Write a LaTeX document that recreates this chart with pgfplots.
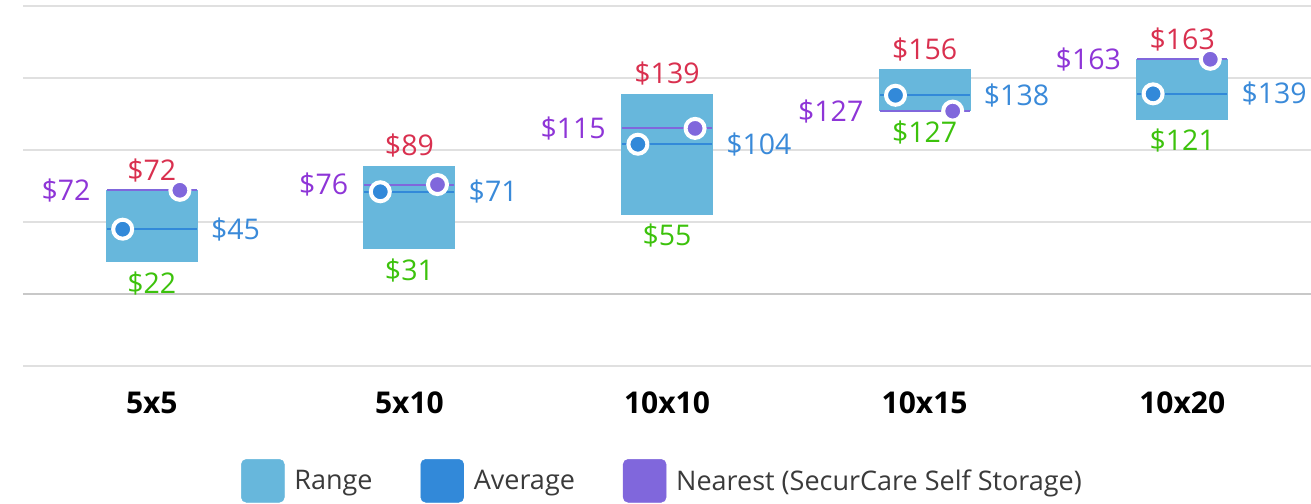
\documentclass[border=0pt]{standalone}
\usepackage{fontspec}
\setmainfont{Open Sans}
\usepackage{pgfplots}
\usepackage{pgfplotstable}
\pgfplotsset{compat=1.18}
\definecolor{rangecol}{HTML}{67B7DC}
\definecolor{avgcol}{HTML}{3289D9}
\definecolor{nearcol}{HTML}{8067DC}
\definecolor{maxcol}{HTML}{D9304F}
\definecolor{mincol}{HTML}{3CC20C}
\definecolor{nearlab}{HTML}{8E35D7}
\definecolor{avglab}{HTML}{3A8AD9}
\definecolor{gridcol}{HTML}{E0E0E0}
\definecolor{zerocol}{HTML}{C8C8C8}
\definecolor{legtext}{HTML}{3A3A3A}

\pgfplotstableread{
x min max avg near
0 22 72 45 72
1 31 89 71 76
2 55 139 104 115
3 127 156 138 127
4 121 163 139 163
}\data

\pgfplotsset{
  lab/.style={only marks, mark=none, forget plot, point meta=y,
    nodes near coords={\$\pgfmathprintnumber{\pgfplotspointmeta}},
    every node near coord/.append style={font=\fontsize{28.5}{30}\selectfont, inner sep=0pt, #1}},
}

\begin{document}
\begin{tikzpicture}
\begin{axis}[
  scale only axis, width=1288pt, height=360pt,
  xmin=-0.5, xmax=4.5, ymin=-50, ymax=200,
  xtick={0,1,2,3,4}, xticklabels={5x5,5x10,10x10,10x15,10x20},
  xticklabel style={font=\fontsize{30}{32}\selectfont\bfseries, anchor=center, yshift=-37pt},
  ytick={-50,50,100,150,200}, yticklabels={},
  extra y ticks={0}, extra y tick labels={},
  extra y tick style={grid style={zerocol, line width=1.6pt}},
  ymajorgrids, grid style={gridcol, line width=1.4pt},
  axis line style={draw=none}, major tick length=0pt,
  clip=false,
  /pgf/number format/assume math mode=true,
  legend columns=3,
  legend style={at={(0.4965,-0.319)}, anchor=center, draw=none, fill=none,
    font=\fontsize{27}{29}\selectfont, text=legtext,
    /tikz/every even column/.append style={column sep=46pt}},
]
% range boxes
\addplot[draw=none, mark=none, forget plot,
  error bars/.cd, y dir=both, y explicit, error mark=none,
  error bar style={draw=rangecol, line width=92pt}]
  table[x=x, y expr=(\thisrow{min}+\thisrow{max})/2, y error expr=(\thisrow{max}-\thisrow{min})/2] {\data};
% average line
\addplot[only marks, forget plot, mark=-, mark size=45pt, mark options={draw=avgcol, line width=1.8pt}]
  table[x=x, y=avg] {\data};
% nearest line
\addplot[only marks, forget plot, mark=-, mark size=45pt, mark options={draw=nearcol, line width=2pt}]
  table[x=x, y=near] {\data};
% average dots
\addplot[only marks, forget plot, mark=*, mark size=9.5pt, mark options={fill=avgcol, draw=white, line width=4pt}]
  table[x expr=\thisrow{x}-0.113, y=avg] {\data};
% nearest dots
\addplot[only marks, forget plot, mark=*, mark size=9.5pt, mark options={fill=nearcol, draw=white, line width=4pt}]
  table[x expr=\thisrow{x}+0.109, y=near] {\data};
% labels
\addplot[lab={text=maxcol, anchor=center, yshift=20pt}] table[x=x, y=max] {\data};
\addplot[lab={text=mincol, anchor=center, yshift=-21pt}] table[x=x, y=min] {\data};
\addplot[lab={text=avglab, anchor=west, xshift=13pt}] table[x expr=\thisrow{x}+0.179, y=avg] {\data};
\addplot[lab={text=nearlab, anchor=east, xshift=-15pt}] table[x expr=\thisrow{x}-0.179, y=near] {\data};
% legend
\addlegendimage{legend image code/.code={\fill[rangecol, rounded corners=5pt] (0pt,-21.5pt) rectangle (43pt,21.5pt); \path[draw=none, fill=none] (43pt,0pt) -- (51pt,0pt);}}
\addlegendentry{Range}
\addlegendimage{legend image code/.code={\fill[avgcol, rounded corners=5pt] (0pt,-21.5pt) rectangle (43pt,21.5pt); \path[draw=none, fill=none] (43pt,0pt) -- (51pt,0pt);}}
\addlegendentry{Average}
\addlegendimage{legend image code/.code={\fill[nearcol, rounded corners=5pt] (0pt,-21.5pt) rectangle (43pt,21.5pt); \path[draw=none, fill=none] (43pt,0pt) -- (51pt,0pt);}}
\addlegendentry{Nearest (SecurCare Self Storage)}
\end{axis}
\pgfresetboundingbox
\path[use as bounding box] ([xshift=-23pt,yshift=-138pt]current axis.south west) rectangle ([yshift=6pt]current axis.north east);
\end{tikzpicture}
\end{document}
